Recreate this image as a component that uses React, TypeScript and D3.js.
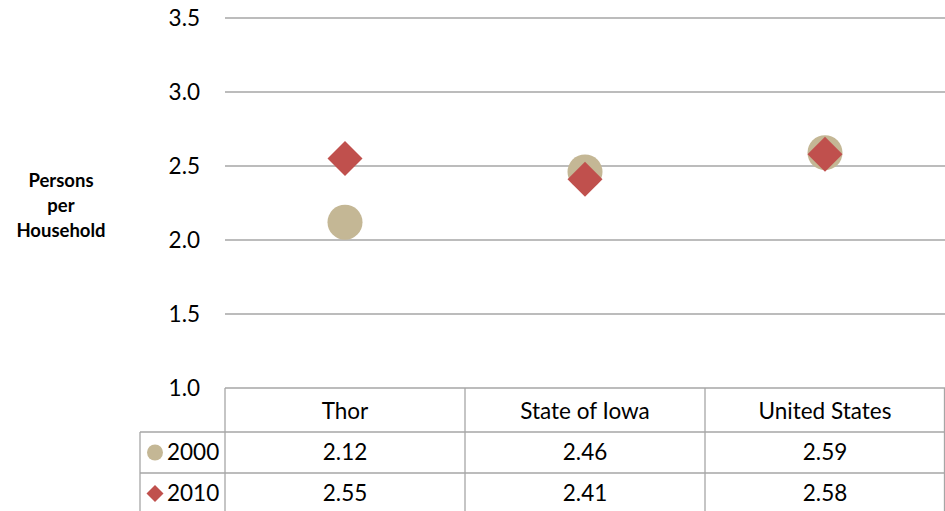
import React from 'react';
import * as d3 from 'd3';

const categories = ['Thor', 'State of Iowa', 'United States'];
const seriesNames = ['2000', '2010'];
const values2000 = [2.12, 2.46, 2.59];
const values2010 = [2.55, 2.41, 2.58];
const yTicks = [1.0, 1.5, 2.0, 2.5, 3.0, 3.5];

const W = 945,
  H = 511;
const FONT = 'Lato, "Open Sans", sans-serif';
const TAN = '#c4b795';
const RED = '#c0504d';
const GRID = '#a6a6a6';
const FS = 22.5;

const App = () => {
  const left = 225,
    right = 945,
    top = 18,
    bottom = 388;
  const x = d3.scaleBand().domain(categories).range([left, right]);
  const y = d3.scaleLinear().domain([1, 3.5]).range([bottom, top]);
  const rowH = [44, 41, 41];
  const rowY = [bottom, bottom + rowH[0], bottom + rowH[0] + rowH[1], bottom + rowH[0] + rowH[1] + rowH[2]];
  const diamond = (s: number) => `M0,${-s}L${s},0L0,${s}L${-s},0Z`;
  const series = [values2000, values2010];

  return (
    <svg width={W} height={H} style={{ position: 'absolute', left: 0, top: 0, background: '#fff' }}>
      {/* gridlines */}
      {yTicks.slice(1).map(t => (
        <line key={t} x1={left} x2={right} y1={y(t)} y2={y(t)} stroke={GRID} strokeWidth={1.3} />
      ))}
      {yTicks.map(t => (
        <text key={'l' + t} x={200} y={y(t)} dy="0.35em" textAnchor="end" style={{ fontFamily: FONT, fontSize: FS, fill: '#000' }}>
          {t.toFixed(1)}
        </text>
      ))}
      <text textAnchor="middle" style={{ fontFamily: FONT, fontSize: 18.5, fontWeight: 'bold' }}>
        <tspan x={61} y={187}>Persons</tspan>
        <tspan x={61} y={212}>per</tspan>
        <tspan x={61} y={237}>Household</tspan>
      </text>

      {/* table */}
      <g stroke={GRID} strokeWidth={1.3}>
        <line x1={left} x2={right} y1={rowY[0]} y2={rowY[0]} />
        <line x1={140} x2={right} y1={rowY[1]} y2={rowY[1]} />
        <line x1={140} x2={right} y1={rowY[2]} y2={rowY[2]} />
        <line x1={140} x2={140} y1={rowY[1]} y2={H} />
        {categories.map(c => (
          <line key={c} x1={x(c)!} x2={x(c)!} y1={rowY[0]} y2={H} />
        ))}
        <line x1={right - 0.5} x2={right - 0.5} y1={rowY[0]} y2={H} />
      </g>
      {categories.map(c => (
        <text key={c} x={x(c)! + x.bandwidth() / 2} y={(rowY[0] + rowY[1]) / 2 + 1} dy="0.35em" textAnchor="middle" style={{ fontFamily: FONT, fontSize: FS }}>
          {c}
        </text>
      ))}
      {series.map((vals, si) =>
        vals.map((v, i) => (
          <text key={si + '-' + i} x={x(categories[i])! + x.bandwidth() / 2} y={(rowY[si + 1] + rowY[si + 2]) / 2} dy="0.35em" textAnchor="middle" style={{ fontFamily: FONT, fontSize: FS }}>
            {v.toFixed(2)}
          </text>
        ))
      )}
      {seriesNames.map((s, si) => {
        const cy = (rowY[si + 1] + rowY[si + 2]) / 2;
        return (
          <g key={s}>
            {si === 0 ? (
              <circle cx={155} cy={cy} r={8} fill={TAN} />
            ) : (
              <path d={diamond(8.5)} transform={`translate(155,${cy})`} fill={RED} />
            )}
            <text x={167} y={cy} dy="0.35em" style={{ fontFamily: FONT, fontSize: FS }}>
              {s}
            </text>
          </g>
        );
      })}

      {/* markers */}
      {values2000.map((v, i) => (
        <circle key={'c' + i} cx={x(categories[i])! + x.bandwidth() / 2} cy={y(v)} r={17.5} fill={TAN} />
      ))}
      {values2010.map((v, i) => (
        <path key={'d' + i} d={diamond(17.5)} transform={`translate(${x(categories[i])! + x.bandwidth() / 2},${y(v)})`} fill={RED} />
      ))}
    </svg>
  );
};

export default App;
